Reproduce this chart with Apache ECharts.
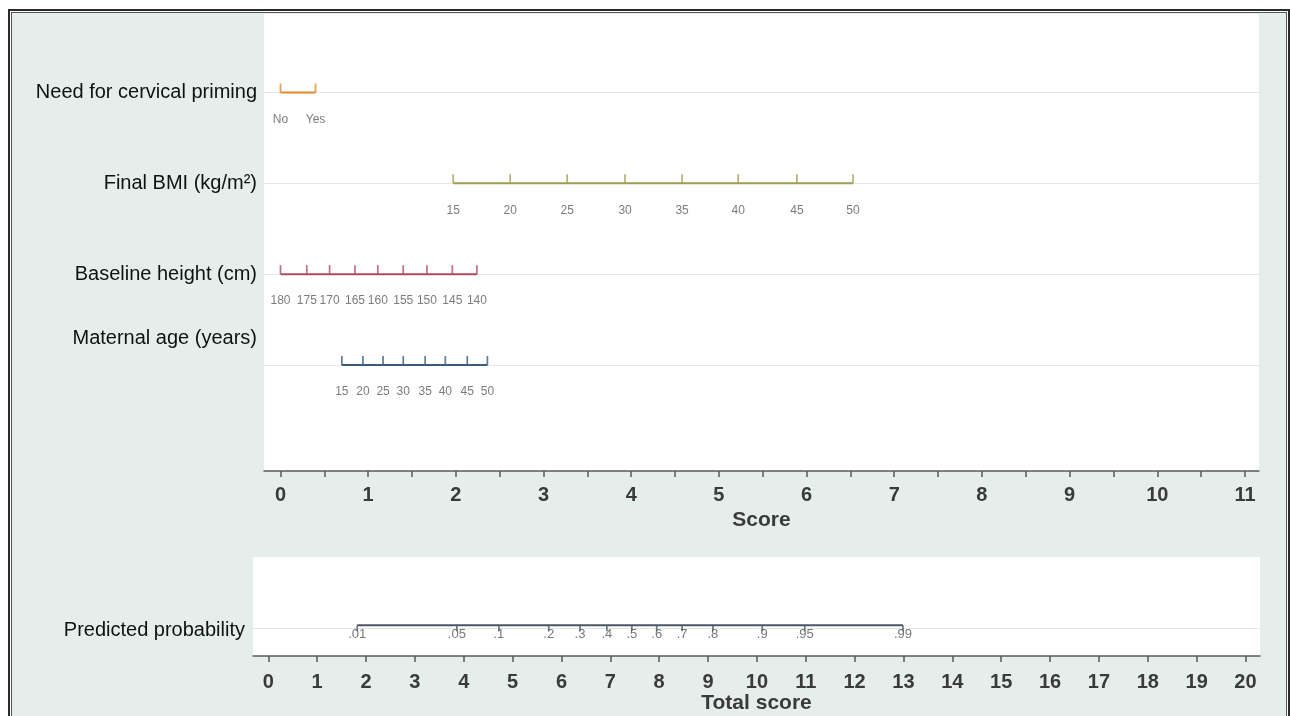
<!DOCTYPE html>
<html>
<head>
<meta charset="utf-8">
<script src="https://cdn.jsdelivr.net/npm/echarts@6/dist/echarts.min.js"></script>
<style>
html,body{margin:0;padding:0;background:#fff;width:1290px;height:716px;overflow:hidden}
#frame{position:absolute;left:8px;top:9px;width:1278px;height:730px;border:2px solid #2a2a2a;border-bottom:none}
#inner{position:absolute;left:1px;top:1px;right:1px;bottom:0;border:1px solid #555;border-bottom:none;background:#e5eeeb}
#chart{position:absolute;left:0;top:0;width:1290px;height:716px}
</style>
</head>
<body>
<div id="frame"><div id="inner"></div></div>
<div id="chart"></div>
<script>
// ---- data ----
const rowNames = ['Need for cervical priming', 'Final BMI (kg/m\u00B2)', 'Baseline height (cm)', 'Maternal age (years)'];
const rowPos = [1, 2, 3, 4];

const primingLabels = ['No', 'Yes'];
const primingScores = [0, 0.40];

const bmiLabels = ['15', '20', '25', '30', '35', '40', '45', '50'];
const bmiScores = [1.97, 2.62, 3.27, 3.93, 4.58, 5.22, 5.89, 6.53];

const heightLabels = ['180', '175', '170', '165', '160', '155', '150', '145', '140'];
const heightScores = [0, 0.30, 0.56, 0.85, 1.11, 1.40, 1.67, 1.96, 2.24];

const ageLabels = ['15', '20', '25', '30', '35', '40', '45', '50'];
const ageScores = [0.70, 0.94, 1.17, 1.40, 1.65, 1.88, 2.13, 2.36];

const probName = 'Predicted probability';
const probRow = 0.45;
const probLabels = ['.01', '.05', '.1', '.2', '.3', '.4', '.5', '.6', '.7', '.8', '.9', '.95', '.99'];
const probTotals = [1.82, 3.86, 4.72, 5.74, 6.38, 6.93, 7.44, 7.95, 8.47, 9.10, 10.11, 10.98, 12.99];

const scoreTickLabels = [0, 1, 2, 3, 4, 5, 6, 7, 8, 9, 10, 11];
const scoreTickMarks = [0, 0.5, 1, 1.5, 2, 2.5, 3, 3.5, 4, 4.5, 5, 5.5, 6, 6.5, 7, 7.5, 8, 8.5, 9, 9.5, 10, 10.5, 11];
const totalTickLabels = [0, 1, 2, 3, 4, 5, 6, 7, 8, 9, 10, 11, 12, 13, 14, 15, 16, 17, 18, 19, 20];

const rowColors = ['#e08a2c', '#a09d55', '#b04a60', '#3b5a80'];
const probColor = '#4a5866';

// ---- build ----
const FONT = 'Liberation Sans, Arial, Helvetica, sans-serif';
const rows = [
  {labels: primingLabels, scores: primingScores},
  {labels: bmiLabels, scores: bmiScores},
  {labels: heightLabels, scores: heightScores},
  {labels: ageLabels, scores: ageScores}
];

const series = [];
rows.forEach((r, i) => {
  const y = rowPos[i];
  series.push({
    type: 'line', xAxisIndex: 0, yAxisIndex: 0, silent: true, z: 3,
    data: r.scores.map(s => [s, y]),
    symbol: 'none',
    lineStyle: {color: rowColors[i], width: 2},
    markLine: {
      silent: true, z: 1, symbol: ['none', 'none'], label: {show: false},
      lineStyle: {color: '#e6e6e6', width: 1, type: 'solid'},
      data: [{yAxis: y}]
    }
  });
  series.push({
    type: 'scatter', xAxisIndex: 0, yAxisIndex: 0, silent: true, z: 4,
    data: r.scores.map(s => [s, y]),
    symbol: 'rect', symbolSize: [1.7, 9], symbolOffset: [0, -4.5],
    itemStyle: {color: rowColors[i]},
    label: {
      show: true, position: 'bottom', distance: 21,
      fontFamily: FONT, fontSize: 12, color: '#5a5a5a',
      formatter: p => r.labels[p.dataIndex]
    }
  });
});

series.push({
  type: 'line', xAxisIndex: 1, yAxisIndex: 1, silent: true, z: 3,
  data: probTotals.map(s => [s, probRow]),
  symbol: 'none',
  lineStyle: {color: probColor, width: 2},
  markLine: {
    silent: true, z: 1, symbol: ['none', 'none'], label: {show: false},
    lineStyle: {color: '#e6e6e6', width: 1, type: 'solid'},
    data: [{yAxis: probRow - 0.04}]
  }
});
series.push({
  type: 'scatter', xAxisIndex: 1, yAxisIndex: 1, silent: true, z: 4,
  data: probTotals.map(s => [s, probRow]),
  symbol: 'rect', symbolSize: [1.7, 6], symbolOffset: [0, 3],
  itemStyle: {color: probColor},
  label: {
    show: true, position: 'bottom', distance: -3,
    fontFamily: FONT, fontSize: 13, color: '#555',
    formatter: p => probLabels[p.dataIndex]
  }
});

const axisLabelStyle = {fontFamily: FONT, fontSize: 20, fontWeight: 'bold', color: '#3a3a3a'};
const nameStyle = {fontFamily: FONT, fontSize: 21, fontWeight: 'bold', color: '#3a3a3a'};

const option = {
  animation: false,
  backgroundColor: 'transparent',
  grid: [
    {left: 264, right: 31, top: 14, bottom: 245, show: true, backgroundColor: '#ffffff', borderWidth: 0, outerBoundsMode: 'none', containLabel: false},
    {left: 253, right: 30, top: 557, bottom: 60, show: true, backgroundColor: '#ffffff', borderWidth: 0, outerBoundsMode: 'none', containLabel: false}
  ],
  xAxis: [
    {
      gridIndex: 0, type: 'value', min: -0.188, max: 11.16,
      axisLine: {show: true, onZero: false, lineStyle: {color: '#5a5a5a', width: 1.5}},
      axisTick: {show: true, customValues: scoreTickMarks, length: 6, lineStyle: {color: '#5a5a5a', width: 1.5}},
      axisLabel: Object.assign({show: true, customValues: scoreTickLabels, margin: 14}, axisLabelStyle),
      splitLine: {show: false},
      name: 'Score', nameLocation: 'middle', nameGap: 33, nameTextStyle: nameStyle
    },
    {
      gridIndex: 1, type: 'value', min: -0.313, max: 20.297,
      axisLine: {show: true, onZero: false, lineStyle: {color: '#5a5a5a', width: 1.5}},
      axisTick: {show: true, customValues: totalTickLabels, length: 6, lineStyle: {color: '#5a5a5a', width: 1.5}},
      axisLabel: Object.assign({show: true, customValues: totalTickLabels, margin: 16}, axisLabelStyle),
      splitLine: {show: false},
      name: 'Total score', nameLocation: 'middle', nameGap: 29, nameTextStyle: nameStyle
    }
  ],
  yAxis: [
    {
      gridIndex: 0, type: 'value', min: 0.136, max: 5.167, inverse: true,
      axisLine: {show: false}, axisTick: {show: false}, splitLine: {show: false},
      axisLabel: {
        show: true, customValues: rowPos, margin: 7,
        fontFamily: FONT, fontSize: 20, color: '#111',
        formatter: v => {
          const i = rowPos.indexOf(v);
          if (i < 0) return '';
          return i === 3 ? '{up|' + rowNames[i] + '}' : rowNames[i];
        },
        rich: {up: {fontFamily: FONT, fontSize: 20, color: '#111', padding: [0, 0, 54, 0]}}
      }
    },
    {
      gridIndex: 1, type: 'value', min: 0, max: 1.45,
      axisLine: {show: false}, axisTick: {show: false}, splitLine: {show: false},
      axisLabel: {
        show: true, customValues: [probRow], margin: 8,
        fontFamily: FONT, fontSize: 20, color: '#111',
        formatter: () => '{dn|' + probName + '}',
        rich: {dn: {fontFamily: FONT, fontSize: 20, color: '#111', padding: [10, 0, 0, 0]}}
      }
    }
  ],
  series: series
};

const chart = echarts.init(document.getElementById('chart'), null, {renderer: 'canvas'});
chart.setOption(option);
</script>
</body>
</html>
